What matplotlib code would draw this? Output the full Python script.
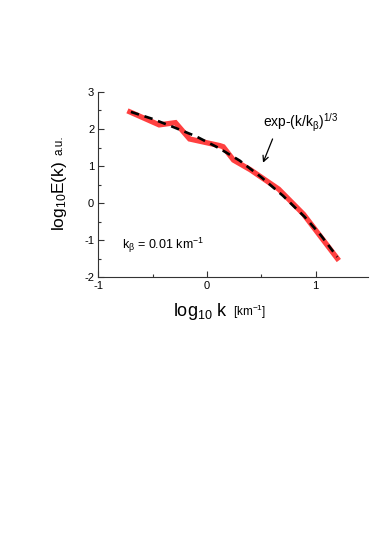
import matplotlib
matplotlib.use("Agg")
from matplotlib import pyplot as plt
from matplotlib.ticker import MultipleLocator

plt.rcParams['font.family'] = ['Liberation Sans', 'DejaVu Sans']
plt.rcParams['mathtext.fontset'] = 'custom'
plt.rcParams['mathtext.rm'] = 'Liberation Sans'
plt.rcParams['mathtext.it'] = 'Liberation Sans'
plt.rcParams['mathtext.bf'] = 'Liberation Sans:bold'
plt.rcParams['axes.unicode_minus'] = False

# measured spectrum (log10 k, log10 E)
logk_data = [-0.71, -0.44, -0.29, -0.16, 0.12, 0.15, 0.245, 0.40, 0.66, 0.89, 1.20]
logE_data = [2.46, 2.11, 2.17, 1.73, 1.55, 1.52, 1.16, 0.90, 0.38, -0.30, -1.49]

# fitted curve exp-(k/k_beta)^(1/3)
logk_fit = [-0.70, -0.50, -0.30, -0.10, 0.10, 0.30, 0.50, 0.70, 0.90, 1.05, 1.20]
logE_fit = [2.46, 2.27, 2.04, 1.80, 1.50, 1.15, 0.70, 0.20, -0.37, -0.87, -1.45]

fig = plt.figure(figsize=(3.74, 5.36), dpi=100)
ax = fig.add_axes([0.263, 0.4826, 0.72, 0.346])

ax.plot(logk_data, logE_data, color='#ff4040', lw=3.8, solid_joinstyle='miter')
ax.plot(logk_fit, logE_fit, color='black', lw=1.9, ls=(0, (3.2, 2.2)))

ax.set_xlim(-1, 1.48)
ax.set_ylim(-2, 3)
ax.spines['top'].set_visible(False)
ax.spines['right'].set_visible(False)
for s in ['left', 'bottom']:
    ax.spines[s].set_linewidth(0.8)
    ax.spines[s].set_color('#333333')
ax.xaxis.set_major_locator(MultipleLocator(1))
ax.xaxis.set_minor_locator(MultipleLocator(0.5))
ax.yaxis.set_major_locator(MultipleLocator(1))
ax.yaxis.set_minor_locator(MultipleLocator(0.5))
ax.tick_params(which='both', direction='in', labelsize=8, width=0.8, color='#333333')
ax.tick_params(which='major', length=4, pad=3)
ax.tick_params(which='minor', length=2.5)

# axis titles, big part + small units
fig.text(0.623, 0.418, r'log$_{10}$ k  ', fontsize=13, ha='right', va='center')
fig.text(0.623, 0.418, r'[km$^{-1}$]', fontsize=8.5, ha='left', va='center')

fig.text(0.16, 0.635, r'log$_{10}$E(k)', fontsize=12.5, rotation=90, ha='center', va='center')
fig.text(0.16, 0.73, 'a.u.', fontsize=8.5, rotation=90, ha='center', va='center')

ax.text(-0.78, -1.13, r'k$_{\beta}$ = 0.01 km$^{-1}$', fontsize=9, ha='left', va='center')
ax.annotate('', xy=(0.507, 1.02), xytext=(0.614, 1.80),
            arrowprops=dict(arrowstyle='->', color='black', lw=0.9))
ax.text(0.52, 2.15, r'exp-(k/k$_{\beta}$)$^{1/3}$', fontsize=10, ha='left', va='center')

fig.savefig('out.png', dpi=100)
